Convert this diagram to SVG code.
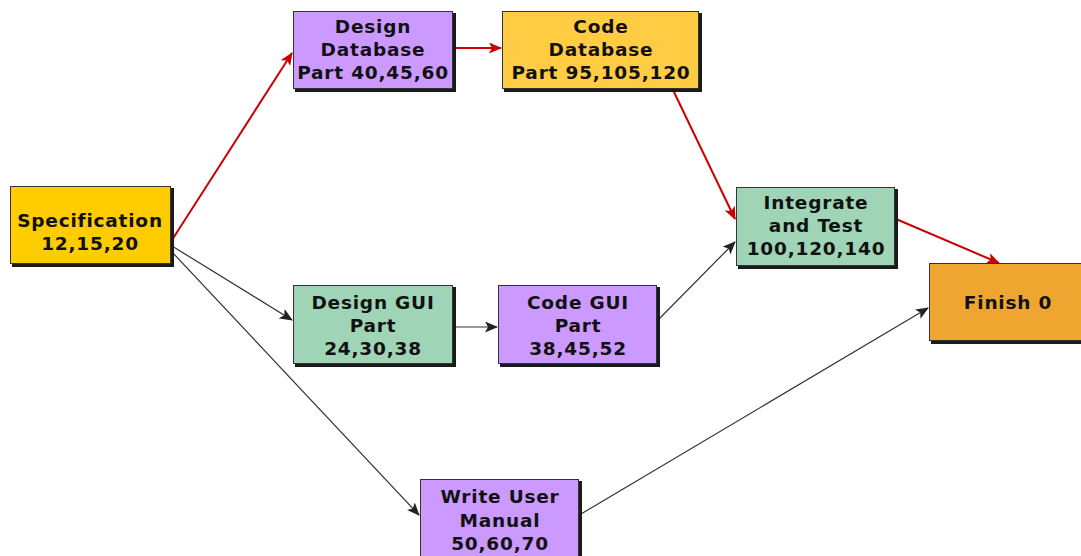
<svg xmlns="http://www.w3.org/2000/svg" width="1081" height="556" viewBox="0 0 1081 556">
<defs>
<marker id="ar" markerWidth="13" markerHeight="11" refX="12" refY="5.5" orient="auto" markerUnits="userSpaceOnUse">
<path d="M0,0 L13,5.5 L0,11 L3,5.5 Z" fill="#cc0000"/>
</marker>
<marker id="ab" markerWidth="13" markerHeight="11" refX="12" refY="5.5" orient="auto" markerUnits="userSpaceOnUse">
<path d="M0,0 L13,5.5 L0,11 L3,5.5 Z" fill="#222"/>
</marker>
</defs>
<style>
.sh{fill:#1a1a1a}
.bx{stroke:#333;stroke-width:1}
text{font-family:"DejaVu Sans",Verdana,sans-serif;font-weight:bold;font-size:18.5px;letter-spacing:0.8px;fill:#111;text-anchor:middle}
.r{stroke:#cc0000;stroke-width:2;fill:none;marker-end:url(#ar)}
.k{stroke:#333;stroke-width:1.2;fill:none;marker-end:url(#ab)}
</style>
<rect width="1081" height="556" fill="#fff"/>
<g id="connectors">
<line class="r" x1="172" y1="240" x2="292" y2="53"/>
<line class="r" x1="455" y1="48" x2="501" y2="48"/>
<line class="r" x1="673" y1="90" x2="735" y2="219"/>
<line class="r" x1="896" y1="219" x2="999" y2="263"/>
<line class="k" x1="172" y1="246" x2="292" y2="320"/>
<line class="k" x1="172" y1="252" x2="419" y2="515"/>
<line class="k" x1="455" y1="327" x2="497" y2="327"/>
<line class="k" x1="659" y1="319" x2="735" y2="242"/>
<line class="k" x1="581" y1="514" x2="928" y2="308"/>
</g>
<g id="specification">
<rect class="sh" x="12" y="188" width="162" height="79"/>
<rect class="bx" x="10.5" y="186.5" width="160" height="77" fill="#ffcc00"/>
<text x="90" y="227">Specification</text>
<text x="90" y="250">12,15,20</text>
</g>
<g id="design-database">
<rect class="sh" x="295" y="13" width="161" height="79"/>
<rect class="bx" x="293.5" y="11.5" width="159" height="77" fill="#cc99ff"/>
<text x="373" y="33">Design</text>
<text x="373" y="56">Database</text>
<text x="373" y="79">Part 40,45,60</text>
</g>
<g id="code-database">
<rect class="sh" x="504" y="13" width="198" height="79"/>
<rect class="bx" x="502.5" y="11.5" width="196" height="77" fill="#ffcc44"/>
<text x="601" y="33">Code</text>
<text x="601" y="56">Database</text>
<text x="601" y="79">Part 95,105,120</text>
</g>
<g id="integrate-and-test">
<rect class="sh" x="738" y="189" width="160" height="80"/>
<rect class="bx" x="736.5" y="187.5" width="158" height="78" fill="#a0d4b6"/>
<text x="816" y="209">Integrate</text>
<text x="816" y="232">and Test</text>
<text x="816" y="255">100,120,140</text>
</g>
<g id="finish">
<rect class="sh" x="931" y="265" width="160" height="79"/>
<rect class="bx" x="929.5" y="263.5" width="160" height="77" fill="#eea630"/>
<text x="1008" y="309">Finish 0</text>
</g>
<g id="design-gui-part">
<rect class="sh" x="295" y="287" width="161" height="80"/>
<rect class="bx" x="293.5" y="285.5" width="159" height="78" fill="#a0d4b6"/>
<text x="373" y="309">Design GUI</text>
<text x="373" y="332">Part</text>
<text x="373" y="355">24,30,38</text>
</g>
<g id="code-gui-part">
<rect class="sh" x="500" y="287" width="160" height="80"/>
<rect class="bx" x="498.5" y="285.5" width="158" height="78" fill="#cc99ff"/>
<text x="578" y="309">Code GUI</text>
<text x="578" y="332">Part</text>
<text x="578" y="355">38,45,52</text>
</g>
<g id="write-user-manual">
<rect class="sh" x="422" y="481" width="160" height="80"/>
<rect class="bx" x="420.5" y="479.5" width="158" height="80" fill="#cc99ff"/>
<text x="500" y="503">Write User</text>
<text x="500" y="527">Manual</text>
<text x="500" y="550">50,60,70</text>
</g>
</svg>
